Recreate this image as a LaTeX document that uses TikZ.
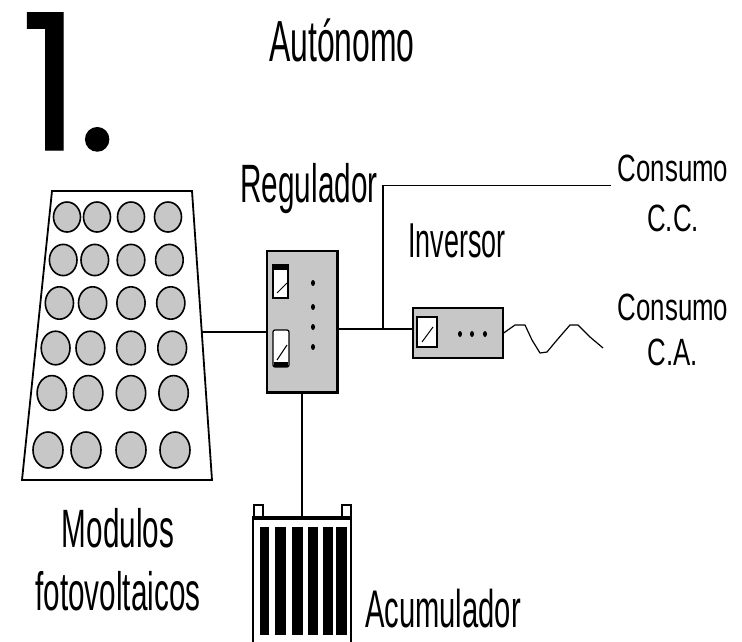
\documentclass[tikz,border=0pt]{standalone}
\usepackage{fontspec}
\usetikzlibrary{positioning}
\newfontfamily\handfont{Liberation Sans}[FakeStretch=0.55]
\newfontfamily\handwide{Liberation Sans}[FakeStretch=0.68]
\newfontfamily\numfont{Poppins}[FakeBold=0.6]
\definecolor{boxgray}{gray}{0.78}
\tikzset{
  lbl/.style={inner sep=0pt,font=\handfont\fontsize{56}{60}\selectfont},
  box/.style={draw,line width=1.3pt,fill=boxgray,inner sep=0pt},
  cell/.style={draw,line width=1.6pt,fill=boxgray},
  meter/.style={draw,line width=1.2pt,fill=white},
  wire/.style={line width=1.2pt},
}
\begin{document}
\begin{tikzpicture}[x=1pt,y=-1pt]
\useasboundingbox (0,0) rectangle (742,642);
\node[inner sep=0pt,anchor=base west,font=\numfont\fontsize{190}{190}\selectfont] (num) at (20,150) {1\kern-.02em.};
\node[lbl,anchor=base,font=\handfont\fontsize{58}{60}\selectfont] (title) at (342,62) {Autónomo};

\draw[line width=1.8pt] (52,191) -- (192,191) -- (212,480) -- (22,480) -- cycle;
\coordinate (panel) at (201.5,332);
\foreach \y [count=\r from 0] in {217,260,303,348,393,450}
  \foreach \x/\dx in {67/-3.8,97/-2.2,131/0,168/1.4}
    \draw[cell] ({\x+\dx*\r},\y) ellipse [x radius={13.5+0.3*\r},y radius={15+0.6*\r}];
\node[lbl,align=center,anchor=north,font=\handfont\fontsize{54}{63}\selectfont] (modlbl) at (118,508) {Modulos\\fotovoltaicos};

\node[box,minimum width=70pt,minimum height=141pt] (reg) at (302,321.5) {};
\draw[line width=3pt] (reg.north east) -- (reg.south east) -- (reg.south west);
\draw[meter] (273,265) rectangle (288,298);
\fill (273,265) rectangle (288,270);
\draw[line width=1pt] (277,293) -- (287,283);
\draw[meter,rounded corners=2pt] (273,330) rectangle (289,367);
\fill (274,362) rectangle (288,367);
\draw[line width=1pt] (277,360) -- (287,345);
\foreach \y in {283,307,327,347}
  \fill (313,\y) ellipse [x radius=2,y radius=3];
\node[lbl,anchor=base,font=\handfont\fontsize{54}{60}\selectfont] (reglbl) at (309,202) {Regulador};

\node[box,minimum width=90pt,minimum height=50pt] (inv) at (458,333) {};
\draw[meter] (417,317) rectangle (437,347);
\draw[line width=1pt] (422,342) -- (433,327);
\foreach \x in {460,472,485}
  \fill (\x,334) ellipse [x radius=2,y radius=3];
\node[lbl,anchor=base,font=\handfont\fontsize{49}{52}\selectfont] (invlbl) at (457,257) {Inversor};

\node[draw,line width=1.6pt,fill=white,minimum width=98pt,minimum height=140pt,anchor=north] (bat) at (302,518) {};
\draw[line width=4pt] (bat.north west) -- (bat.north east);
\draw[line width=1.4pt] (254,518) rectangle (263,505);
\draw[line width=1.4pt] (342,518) rectangle (351,505);
\foreach \a/\b in {260/269,275/286,292/303,308/318,323/333,336/347}
  \fill (\a,527) rectangle (\b,635);
\node[lbl,anchor=base,font=\handfont\fontsize{53}{60}\selectfont] (batlbl) at (443,627) {Acumulador};

\node[inner sep=0pt,align=center,anchor=north,font=\handwide\fontsize{38}{50}\selectfont] (cc) at (673,155) {Consumo\\C.C.};
\node[inner sep=0pt,align=center,anchor=north,font=\handwide\fontsize{38}{45}\selectfont] (calbl) at (673,294) {Consumo\\C.A.};

\coordinate (bus) at (383,329);
\coordinate (acend) at (603,348);
\draw[wire] (panel) -- (panel -| reg.west);
\draw[wire] (reg.east |- bus) -- (inv.west |- bus);
\draw[wire] (bus) |- ([yshift=8pt,xshift=-7pt]cc.west);
\draw[wire] (reg.south) -- (bat.north);
\draw[wire,line join=round] (inv.east) -- (515,325) -- (525,325) -- (532,340) -- (540,353)
  -- (547,352) -- (557,340) -- (570,325) -- (578,325) -- (590,337) -- (acend);
\end{tikzpicture}
\end{document}
